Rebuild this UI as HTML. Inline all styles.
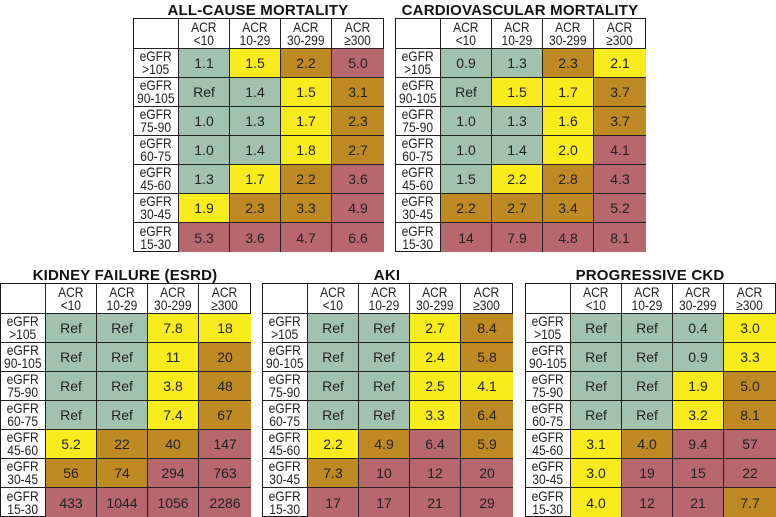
<!DOCTYPE html>
<html><head><meta charset="utf-8">
<style>
body{margin:0;width:776px;height:516px;background:#fff;position:relative;overflow:hidden;font-family:"Liberation Sans",Arial,sans-serif;}
.t{position:absolute;font-weight:bold;font-size:15px;text-align:center;color:#111;letter-spacing:0.2px}
.g{position:absolute;border:1.5px solid #1a1a1a;box-sizing:border-box}
.c{position:absolute;box-sizing:border-box;border-right:1px solid #222;border-bottom:1px solid #222;display:flex;align-items:center;justify-content:center;text-align:center;color:#222}
.h{font-size:14px;line-height:13px;color:#222;transform:scaleX(0.86);white-space:nowrap}
.n{font-size:14px}
</style></head><body>
<script>
var C={G:'#a3c2ae',Y:'#f9ec1c',B:'#bf8a24',R:'#b8676f'};
var rowsL=['>105','90-105','75-90','60-75','45-60','30-45','15-30'];
var colsL=['<10','10-29','30-299','≥300'];
function tbl(title,x,y,data){
  var t=document.createElement('div');t.className='t';
  t.style.left=x+'px';t.style.width='250px';t.style.top=(y-16)+'px';t.textContent=title;document.body.appendChild(t);
  var g=document.createElement('div');g.className='g';
  g.style.left=x+'px';g.style.top=y+'px';g.style.width='251px';g.style.height='234px';document.body.appendChild(g);
  var cw=[45,51,51,51,52],cx=[0,45,96,147,198];
  for(var r=0;r<8;r++){for(var c=0;c<5;c++){
    var d=document.createElement('div');d.className='c';
    var top=r==0?0:30+(r-1)*29, h=r==0?30:29;
    d.style.left=cx[c]+'px';d.style.top=top+'px';d.style.width=cw[c]+'px';d.style.height=h+'px';
    if(c==4)d.style.borderRight='none'; if(r==7)d.style.borderBottom='none';
    if(r==0&&c>0){d.innerHTML='<span class="h">ACR<br>'+colsL[c-1]+'</span>';}
    else if(c==0&&r>0){d.innerHTML='<span class="h">eGFR<br>'+rowsL[r-1]+'</span>';}
    else if(r>0){var v=data[r-1][c-1].split(':');d.style.background=C[v[1]];d.innerHTML='<span class="n">'+v[0]+'</span>';}
    g.appendChild(d);
  }}
}
function P(s){return s.split('|').map(function(r){return r.trim().split(' ');});}
tbl('ALL-CAUSE MORTALITY',133,18,P('1.1:G 1.5:Y 2.2:B 5.0:R|Ref:G 1.4:G 1.5:Y 3.1:B|1.0:G 1.3:G 1.7:Y 2.3:B|1.0:G 1.4:G 1.8:Y 2.7:B|1.3:G 1.7:Y 2.2:B 3.6:R|1.9:Y 2.3:B 3.3:B 4.9:R|5.3:R 3.6:R 4.7:R 6.6:R'));
tbl('CARDIOVASCULAR MORTALITY',395,18,P('0.9:G 1.3:G 2.3:B 2.1:Y|Ref:G 1.5:Y 1.7:Y 3.7:B|1.0:G 1.3:G 1.6:Y 3.7:B|1.0:G 1.4:G 2.0:Y 4.1:R|1.5:G 2.2:Y 2.8:B 4.3:R|2.2:B 2.7:B 3.4:B 5.2:R|14:R 7.9:R 4.8:R 8.1:R'));
tbl('KIDNEY FAILURE (ESRD)',0,283,P('Ref:G Ref:G 7.8:Y 18:Y|Ref:G Ref:G 11:Y 20:B|Ref:G Ref:G 3.8:Y 48:B|Ref:G Ref:G 7.4:Y 67:B|5.2:Y 22:B 40:B 147:R|56:B 74:B 294:R 763:R|433:R 1044:R 1056:R 2286:R'));
tbl('AKI',262,283,P('Ref:G Ref:G 2.7:Y 8.4:B|Ref:G Ref:G 2.4:Y 5.8:B|Ref:G Ref:G 2.5:Y 4.1:Y|Ref:G Ref:G 3.3:Y 6.4:B|2.2:Y 4.9:B 6.4:R 5.9:B|7.3:B 10:R 12:R 20:R|17:R 17:R 21:R 29:R'));
tbl('PROGRESSIVE CKD',525,283,P('Ref:G Ref:G 0.4:G 3.0:Y|Ref:G Ref:G 0.9:G 3.3:Y|Ref:G Ref:G 1.9:Y 5.0:B|Ref:G Ref:G 3.2:Y 8.1:B|3.1:Y 4.0:B 9.4:R 57:R|3.0:Y 19:R 15:R 22:R|4.0:Y 12:R 21:R 7.7:B'));
</script>
</body></html>
